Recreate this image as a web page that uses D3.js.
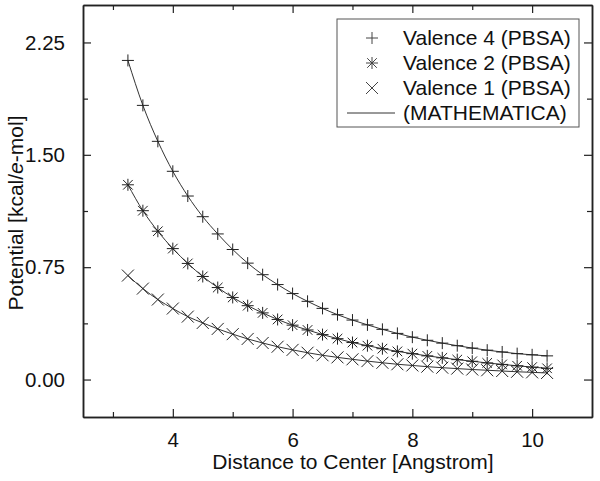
<!DOCTYPE html>
<html lang="en">
  <head>
    <meta charset="UTF-8" />
    <title>Potential vs Distance</title>
    <script src="https://cdn.jsdelivr.net/npm/d3@7/dist/d3.min.js"></script>
    <style>
      body {
        margin: 0;
        background: #ffffff;
        font-family: "Liberation Sans", Arial, sans-serif;
      }
    </style>
  </head>
  <body>
    <div id="chart"></div>
    <script>
      // Distance to center (Angstrom)
      const distance = [
        3.25, 3.5, 3.75, 4.0, 4.25, 4.5, 4.75, 5.0, 5.25, 5.5, 5.75, 6.0, 6.25,
        6.5, 6.75, 7.0, 7.25, 7.5, 7.75, 8.0, 8.25, 8.5, 8.75, 9.0, 9.25, 9.5,
        9.75, 10.0, 10.25,
      ];
      const valence4 = [
        2.13, 1.83, 1.59, 1.39, 1.225, 1.087, 0.972, 0.868, 0.777, 0.7, 0.634,
        0.574, 0.522, 0.475, 0.433, 0.397, 0.365, 0.335, 0.308, 0.283, 0.262,
        0.243, 0.226, 0.21, 0.196, 0.184, 0.173, 0.165, 0.158,
      ];
      const valence2 = [
        1.3, 1.127, 0.99, 0.874, 0.775, 0.688, 0.614, 0.548, 0.493, 0.445,
        0.401, 0.363, 0.331, 0.3, 0.273, 0.247, 0.226, 0.206, 0.188, 0.173,
        0.158, 0.145, 0.133, 0.122, 0.111, 0.101, 0.092, 0.083, 0.075,
      ];
      const valence1 = [
        0.694, 0.607, 0.534, 0.474, 0.42, 0.378, 0.338, 0.303, 0.271, 0.244,
        0.219, 0.198, 0.179, 0.162, 0.148, 0.135, 0.123, 0.112, 0.102, 0.094,
        0.086, 0.079, 0.073, 0.067, 0.062, 0.057, 0.052, 0.048, 0.044,
      ];
      const xMajorTicks = [4, 6, 8, 10];
      const xMinorTicks = [3, 5, 7, 9];
      const yMajorTicks = [0, 0.75, 1.5, 2.25];
      const yMinorTicks = [0.375, 1.125, 1.875];
      const legendLabels = [
        "Valence 4 (PBSA)",
        "Valence 2 (PBSA)",
        "Valence 1 (PBSA)",
        "(MATHEMATICA)",
      ];

      const W = 600,
        H = 481;
      const margin = { top: 5, right: 8, bottom: 64, left: 83 };
      const width = W - margin.left - margin.right;
      const height = H - margin.top - margin.bottom;
      const ink = "#222";

      const svg = d3
        .select("#chart")
        .append("svg")
        .attr("width", W)
        .attr("height", H)
        .style("font-family", '"Liberation Sans", Arial, sans-serif');

      const g = svg
        .append("g")
        .attr("transform", `translate(${margin.left},${margin.top})`);

      const x = d3.scaleLinear().domain([2.5, 11]).range([0, width]);
      const y = d3.scaleLinear().domain([-0.25, 2.5]).range([height, 0]);

      // frame axes with inward ticks on all four sides
      function styleAxis(sel) {
        sel.select(".domain").attr("stroke", ink).attr("stroke-width", 1.5);
        sel.selectAll(".tick line").attr("stroke", ink).attr("stroke-width", 1.2);
        sel.selectAll(".tick text").attr("fill", "#111").style("font-size", "20.5px");
      }

      const major = 8,
        minor = 5;

      // bottom
      g.append("g")
        .attr("transform", `translate(0,${height})`)
        .call(d3.axisBottom(x).tickValues(xMinorTicks).tickSize(-minor).tickSizeOuter(0).tickFormat(""))
        .call(styleAxis);
      g.append("g")
        .attr("transform", `translate(0,${height})`)
        .call(d3.axisBottom(x).tickValues(xMajorTicks).tickSize(-major).tickSizeOuter(0).tickPadding(15).tickFormat(d3.format("d")))
        .call(styleAxis);
      // top
      g.append("g")
        .call(d3.axisTop(x).tickValues(xMinorTicks).tickSize(-minor).tickSizeOuter(0).tickFormat(""))
        .call(styleAxis);
      g.append("g")
        .call(d3.axisTop(x).tickValues(xMajorTicks).tickSize(-major).tickSizeOuter(0).tickFormat(""))
        .call(styleAxis);
      // left
      g.append("g")
        .call(d3.axisLeft(y).tickValues(yMinorTicks).tickSize(-minor).tickSizeOuter(0).tickFormat(""))
        .call(styleAxis);
      g.append("g")
        .call(d3.axisLeft(y).tickValues(yMajorTicks).tickSize(-major).tickSizeOuter(0).tickPadding(18).tickFormat(d3.format(".2f")))
        .call(styleAxis);
      // right
      g.append("g")
        .attr("transform", `translate(${width},0)`)
        .call(d3.axisRight(y).tickValues(yMinorTicks).tickSize(-minor).tickSizeOuter(0).tickFormat(""))
        .call(styleAxis);
      g.append("g")
        .attr("transform", `translate(${width},0)`)
        .call(d3.axisRight(y).tickValues(yMajorTicks).tickSize(-major).tickSizeOuter(0).tickFormat(""))
        .call(styleAxis);

      // axis titles
      svg
        .append("text")
        .attr("x", 353)
        .attr("y", 469)
        .attr("text-anchor", "middle")
        .attr("fill", "#111")
        .style("font-size", "21px")
        .text("Distance to Center [Angstrom]");

      const yTitle = svg
        .append("text")
        .attr("transform", `translate(23,213) rotate(-90)`)
        .attr("text-anchor", "middle")
        .attr("fill", "#111")
        .style("font-size", "21px");
      yTitle.append("tspan").text("Potential [kcal/");
      yTitle.append("tspan").style("font-style", "italic").text("e");
      yTitle.append("tspan").text("-mol]");

      // marker shapes
      const s = 6;
      const shapes = {
        plus: `M${-s},0H${s}M0,${-s}V${s}`,
        cross: `M${-s},${-s}L${s},${s}M${-s},${s}L${s},${-s}`,
        star: `M${-s},0H${s}M0,${-s}V${s}M${-s * 0.8},${-s * 0.8}L${s * 0.8},${s * 0.8}M${-s * 0.8},${s * 0.8}L${s * 0.8},${-s * 0.8}`,
      };

      const series = [
        { values: valence4, shape: "plus" },
        { values: valence2, shape: "star" },
        { values: valence1, shape: "cross" },
      ];

      const line = d3
        .line()
        .x((d) => x(d[0]))
        .y((d) => y(d[1]))
        .curve(d3.curveMonotoneX);

      series.forEach((sr) => {
        const pts = distance.map((d, i) => [d, sr.values[i]]);
        g.append("path")
          .datum(pts)
          .attr("fill", "none")
          .attr("stroke", "#333")
          .attr("stroke-width", 1)
          .attr("d", line);
        g.selectAll(null)
          .data(pts)
          .enter()
          .append("path")
          .attr("transform", (d) => `translate(${x(d[0])},${y(d[1])})`)
          .attr("d", shapes[sr.shape])
          .attr("fill", "none")
          .attr("stroke", "#222")
          .attr("stroke-width", 1);
      });

      // legend
      const legend = svg.append("g").attr("transform", "translate(337,19)");
      legend
        .append("rect")
        .attr("width", 242)
        .attr("height", 108)
        .attr("fill", "#fff")
        .attr("stroke", "#555")
        .attr("stroke-width", 1);
      legendLabels.forEach((lab, i) => {
        const cy = 19 + i * 25;
        const row = legend.append("g").attr("transform", `translate(0,${cy})`);
        if (i < 3) {
          row
            .append("path")
            .attr("transform", "translate(35,0)")
            .attr("d", shapes[series[i].shape])
            .attr("fill", "none")
            .attr("stroke", "#444")
            .attr("stroke-width", 1);
        } else {
          row
            .append("line")
            .attr("x1", 10)
            .attr("x2", 58)
            .attr("stroke", "#333")
            .attr("stroke-width", 1);
        }
        row
          .append("text")
          .attr("x", 66)
          .attr("dy", "0.35em")
          .attr("fill", "#111")
          .style("font-size", "21px")
          .text(lab);
      });
    </script>
  </body>
</html>
